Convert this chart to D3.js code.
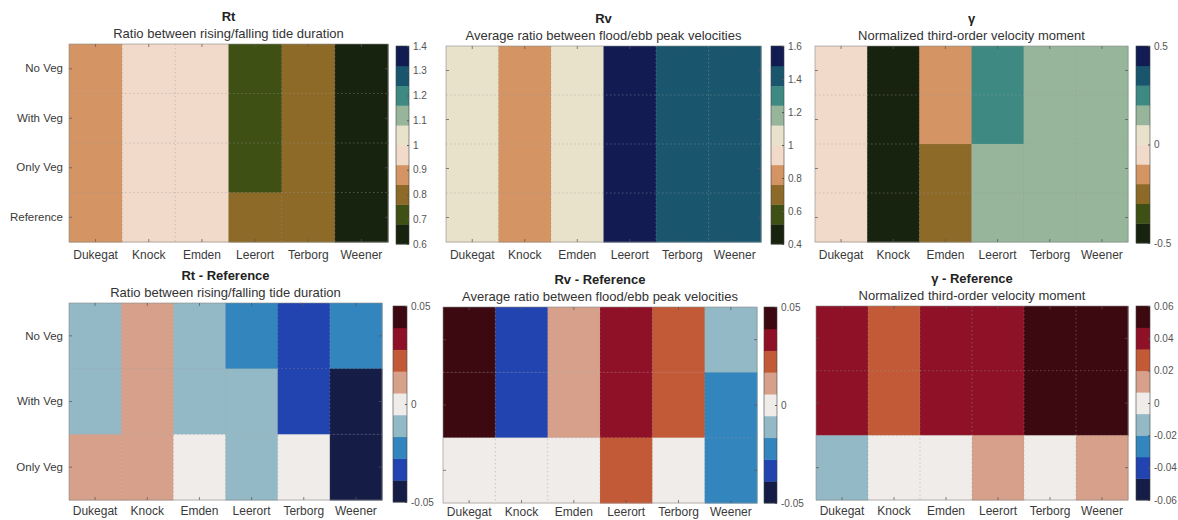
<!DOCTYPE html>
<html>
<head>
<meta charset="utf-8">
<script src="https://cdn.jsdelivr.net/npm/d3@7"></script>
<style>
  html, body { margin: 0; padding: 0; background: #fff; }
  svg { display: block; font-family: "Liberation Sans", Arial, sans-serif; }
</style>
</head>
<body>
<svg id="chart" width="1178" height="520"></svg>
<script>
// ---------- data ----------
const sites = ["Dukegat", "Knock", "Emden", "Leerort", "Terborg", "Weener"];
const scenarios = ["No Veg", "With Veg", "Only Veg", "Reference"];
const diffScenarios = ["No Veg", "With Veg", "Only Veg"];

// rows follow scenarios, columns follow sites
const rtValues = [
  [0.88, 0.96, 0.955, 0.745, 0.78, 0.65],
  [0.88, 0.96, 0.955, 0.755, 0.78, 0.625],
  [0.90, 0.96, 0.965, 0.755, 0.81, 0.625],
  [0.89, 0.95, 0.965, 0.765, 0.81, 0.67]
];
const rvValues = [
  [1.065, 0.81, 1.05, 1.555, 1.44, 1.43],
  [1.065, 0.81, 1.05, 1.555, 1.44, 1.42],
  [1.02, 0.84, 1.04, 1.54, 1.42, 1.42],
  [1.02, 0.84, 1.04, 1.52, 1.42, 1.44]
];
const gammaValues = [
  [-0.02, -0.433, -0.19, 0.21, 0.173, 0.173],
  [-0.02, -0.433, -0.19, 0.21, 0.173, 0.173],
  [-0.073, -0.46, -0.23, 0.183, 0.12, 0.133],
  [-0.06, -0.46, -0.23, 0.17, 0.12, 0.12]
];
// differences with the Reference run (rows follow diffScenarios)
const rtDiff = [
  [-0.01, 0.01, -0.01, -0.02, -0.03, -0.02],
  [-0.01, 0.01, -0.01, -0.01, -0.03, -0.045],
  [0.01, 0.01, 0.0, -0.01, 0.0, -0.045]
];
const rvDiff = [
  [0.045, -0.03, 0.01, 0.035, 0.02, -0.01],
  [0.045, -0.03, 0.01, 0.035, 0.02, -0.02],
  [0.0, 0.0, 0.0, 0.02, 0.0, -0.02]
];
const gammaDiff = [
  [0.04, 0.027, 0.04, 0.04, 0.053, 0.053],
  [0.04, 0.027, 0.04, 0.04, 0.053, 0.053],
  [-0.013, 0.0, 0.0, 0.013, 0.0, 0.013]
];

// colour ramps (low -> high)
const ratioColors = ["#17230f", "#3f5014", "#8d6a28", "#d49463", "#f1dac9",
                     "#e8e2cb", "#97b59a", "#3e8a83", "#19566e", "#121c52"];
const diffColors = ["#151c45", "#2244b0", "#3385bd", "#93b9c6", "#efecea",
                    "#d6a08a", "#c35a37", "#8e1127", "#3d0911"];

// colour bar ticks
const rtTicks = [0.6, 0.7, 0.8, 0.9, 1, 1.1, 1.2, 1.3, 1.4];
const rvTicks = [0.4, 0.6, 0.8, 1, 1.2, 1.4, 1.6];
const gammaTicks = [-0.5, 0, 0.5];
const diffTicks = [-0.05, 0, 0.05];
const gammaDiffTicks = [-0.06, -0.04, -0.02, 0, 0.02, 0.04, 0.06];

// ---------- layout ----------
const panels = [
  { title: "Rt", sub: "Ratio between rising/falling tide duration", data: rtValues, rows: scenarios,
    domain: [0.6, 1.4], colors: ratioColors, ticks: rtTicks, showRows: true, xPad: 8,
    plot: { x0: 69, x1: 388, y0: 44, y1: 242 }, cb: { x0: 396, x1: 409, y0: 46, y1: 244 } },
  { title: "Rv", sub: "Average ratio between flood/ebb peak velocities", data: rvValues, rows: scenarios,
    domain: [0.4, 1.6], colors: ratioColors, ticks: rvTicks, showRows: false, xPad: 8,
    plot: { x0: 446, x1: 761, y0: 46, y1: 242 }, cb: { x0: 771, x1: 784, y0: 46, y1: 244 } },
  { title: "\u03B3", sub: "Normalized third-order velocity moment", data: gammaValues, rows: scenarios,
    domain: [-0.5, 0.5], colors: ratioColors, ticks: gammaTicks, showRows: false, xPad: 8,
    plot: { x0: 815, x1: 1128, y0: 46, y1: 242 }, cb: { x0: 1136, x1: 1150, y0: 46, y1: 243 } },
  { title: "Rt - Reference", sub: "Ratio between rising/falling tide duration", data: rtDiff, rows: diffScenarios,
    domain: [-0.05, 0.05], colors: diffColors, ticks: diffTicks, showRows: true, xPad: 6,
    plot: { x0: 69, x1: 382, y0: 303, y1: 500 }, cb: { x0: 393, x1: 407, y0: 306, y1: 502 } },
  { title: "Rv - Reference", sub: "Average ratio between flood/ebb peak velocities", data: rvDiff, rows: diffScenarios,
    domain: [-0.05, 0.05], colors: diffColors, ticks: diffTicks, showRows: false, xPad: 4,
    plot: { x0: 443, x1: 757, y0: 307, y1: 503 }, cb: { x0: 764, x1: 777, y0: 307, y1: 503 } },
  { title: "\u03B3 - Reference", sub: "Normalized third-order velocity moment", data: gammaDiff, rows: diffScenarios,
    domain: [-0.06, 0.06], colors: diffColors, ticks: gammaDiffTicks, showRows: false, xPad: 6,
    plot: { x0: 816, x1: 1128, y0: 306, y1: 500 }, cb: { x0: 1136, x1: 1150, y0: 306, y1: 500 } }
];

const svg = d3.select("#chart");
const fmt = v => String(+v.toFixed(3));
const FONT = "'Liberation Sans', Arial, sans-serif";

panels.forEach(p => {
  const g = svg.append("g");
  const x = d3.scaleBand().domain(sites).range([p.plot.x0, p.plot.x1]).padding(0);
  const y = d3.scaleBand().domain(p.rows).range([p.plot.y0, p.plot.y1]).padding(0);
  const color = d3.scaleQuantize().domain(p.domain).range(p.colors);

  const cells = [];
  p.data.forEach((row, ri) => row.forEach((v, ci) => cells.push({ r: p.rows[ri], c: sites[ci], v })));

  g.selectAll("rect.cell").data(cells).join("rect")
    .attr("class", "cell")
    .attr("x", d => x(d.c))
    .attr("y", d => y(d.r))
    .attr("width", x.bandwidth() + 0.5)
    .attr("height", y.bandwidth() + 0.5)
    .attr("fill", d => color(d.v));

  // dotted grid at cell boundaries
  const grid = g.append("g").attr("stroke", "#9a9a9a").attr("stroke-opacity", 0.55)
    .attr("stroke-width", 0.8).attr("stroke-dasharray", "1.5,2.5");
  sites.slice(1).forEach(s => {
    grid.append("line").attr("x1", x(s)).attr("x2", x(s)).attr("y1", p.plot.y0).attr("y2", p.plot.y1);
  });
  p.rows.slice(1).forEach(r => {
    grid.append("line").attr("x1", p.plot.x0).attr("x2", p.plot.x1).attr("y1", y(r)).attr("y2", y(r));
  });

  // frame
  g.append("rect").attr("x", p.plot.x0).attr("y", p.plot.y0)
    .attr("width", p.plot.x1 - p.plot.x0).attr("height", p.plot.y1 - p.plot.y0)
    .attr("fill", "none").attr("stroke", "#8a8a8a").attr("stroke-width", 0.6);

  // axes (ticks inward)
  const xb = g.append("g").attr("transform", `translate(0,${p.plot.y1})`)
    .call(d3.axisBottom(x).tickSize(-3).tickPadding(p.xPad));
  const xt = g.append("g").attr("transform", `translate(0,${p.plot.y0})`)
    .call(d3.axisTop(x).tickSize(-3).tickFormat(""));
  const yl = g.append("g").attr("transform", `translate(${p.plot.x0},0)`)
    .call(d3.axisLeft(y).tickSize(-3).tickPadding(6).tickFormat(p.showRows ? (d => d) : ""));
  const yr = g.append("g").attr("transform", `translate(${p.plot.x1},0)`)
    .call(d3.axisRight(y).tickSize(-3).tickFormat(""));
  [xb, xt, yl, yr].forEach(a => {
    a.select(".domain").remove();
    a.selectAll(".tick line").attr("stroke", "#555").attr("stroke-opacity", 0.7);
    a.selectAll("text").attr("fill", "#3a3a3a").style("font-family", FONT);
  });
  xb.selectAll("text").style("font-size", "12px");
  yl.selectAll("text").style("font-size", "11.5px");

  // titles
  const cx = (p.plot.x0 + p.plot.x1) / 2;
  g.append("text").attr("x", cx).attr("y", p.plot.y0 - 23).attr("text-anchor", "middle")
    .attr("font-weight", "bold").attr("font-size", "13px").attr("fill", "#222").text(p.title);
  g.append("text").attr("x", cx).attr("y", p.plot.y0 - 6).attr("text-anchor", "middle")
    .attr("font-size", "13px").attr("fill", "#333").text(p.sub);

  // colour bar
  const cbScale = d3.scaleLinear().domain(p.domain).range([p.cb.y1, p.cb.y0]);
  const n = p.colors.length;
  const step = (p.domain[1] - p.domain[0]) / n;
  const bins = p.colors.map((c, i) => ({ lo: p.domain[0] + i * step, hi: p.domain[0] + (i + 1) * step, c }));
  g.selectAll("rect.cb").data(bins).join("rect")
    .attr("class", "cb")
    .attr("x", p.cb.x0)
    .attr("width", p.cb.x1 - p.cb.x0)
    .attr("y", d => cbScale(d.hi))
    .attr("height", d => cbScale(d.lo) - cbScale(d.hi) + 0.4)
    .attr("fill", d => d.c);
  g.append("rect").attr("x", p.cb.x0).attr("y", p.cb.y0)
    .attr("width", p.cb.x1 - p.cb.x0).attr("height", p.cb.y1 - p.cb.y0)
    .attr("fill", "none").attr("stroke", "#444").attr("stroke-width", 0.6);
  const cba = g.append("g").attr("transform", `translate(${p.cb.x1},0)`)
    .call(d3.axisRight(cbScale).tickValues(p.ticks).tickSize(-2).tickPadding(4).tickFormat(fmt));
  cba.select(".domain").remove();
  cba.selectAll(".tick line").attr("stroke", "#555");
  cba.selectAll("text").attr("fill", "#555").style("font-size", "10px").style("font-family", FONT);
});
</script>
</body>
</html>
